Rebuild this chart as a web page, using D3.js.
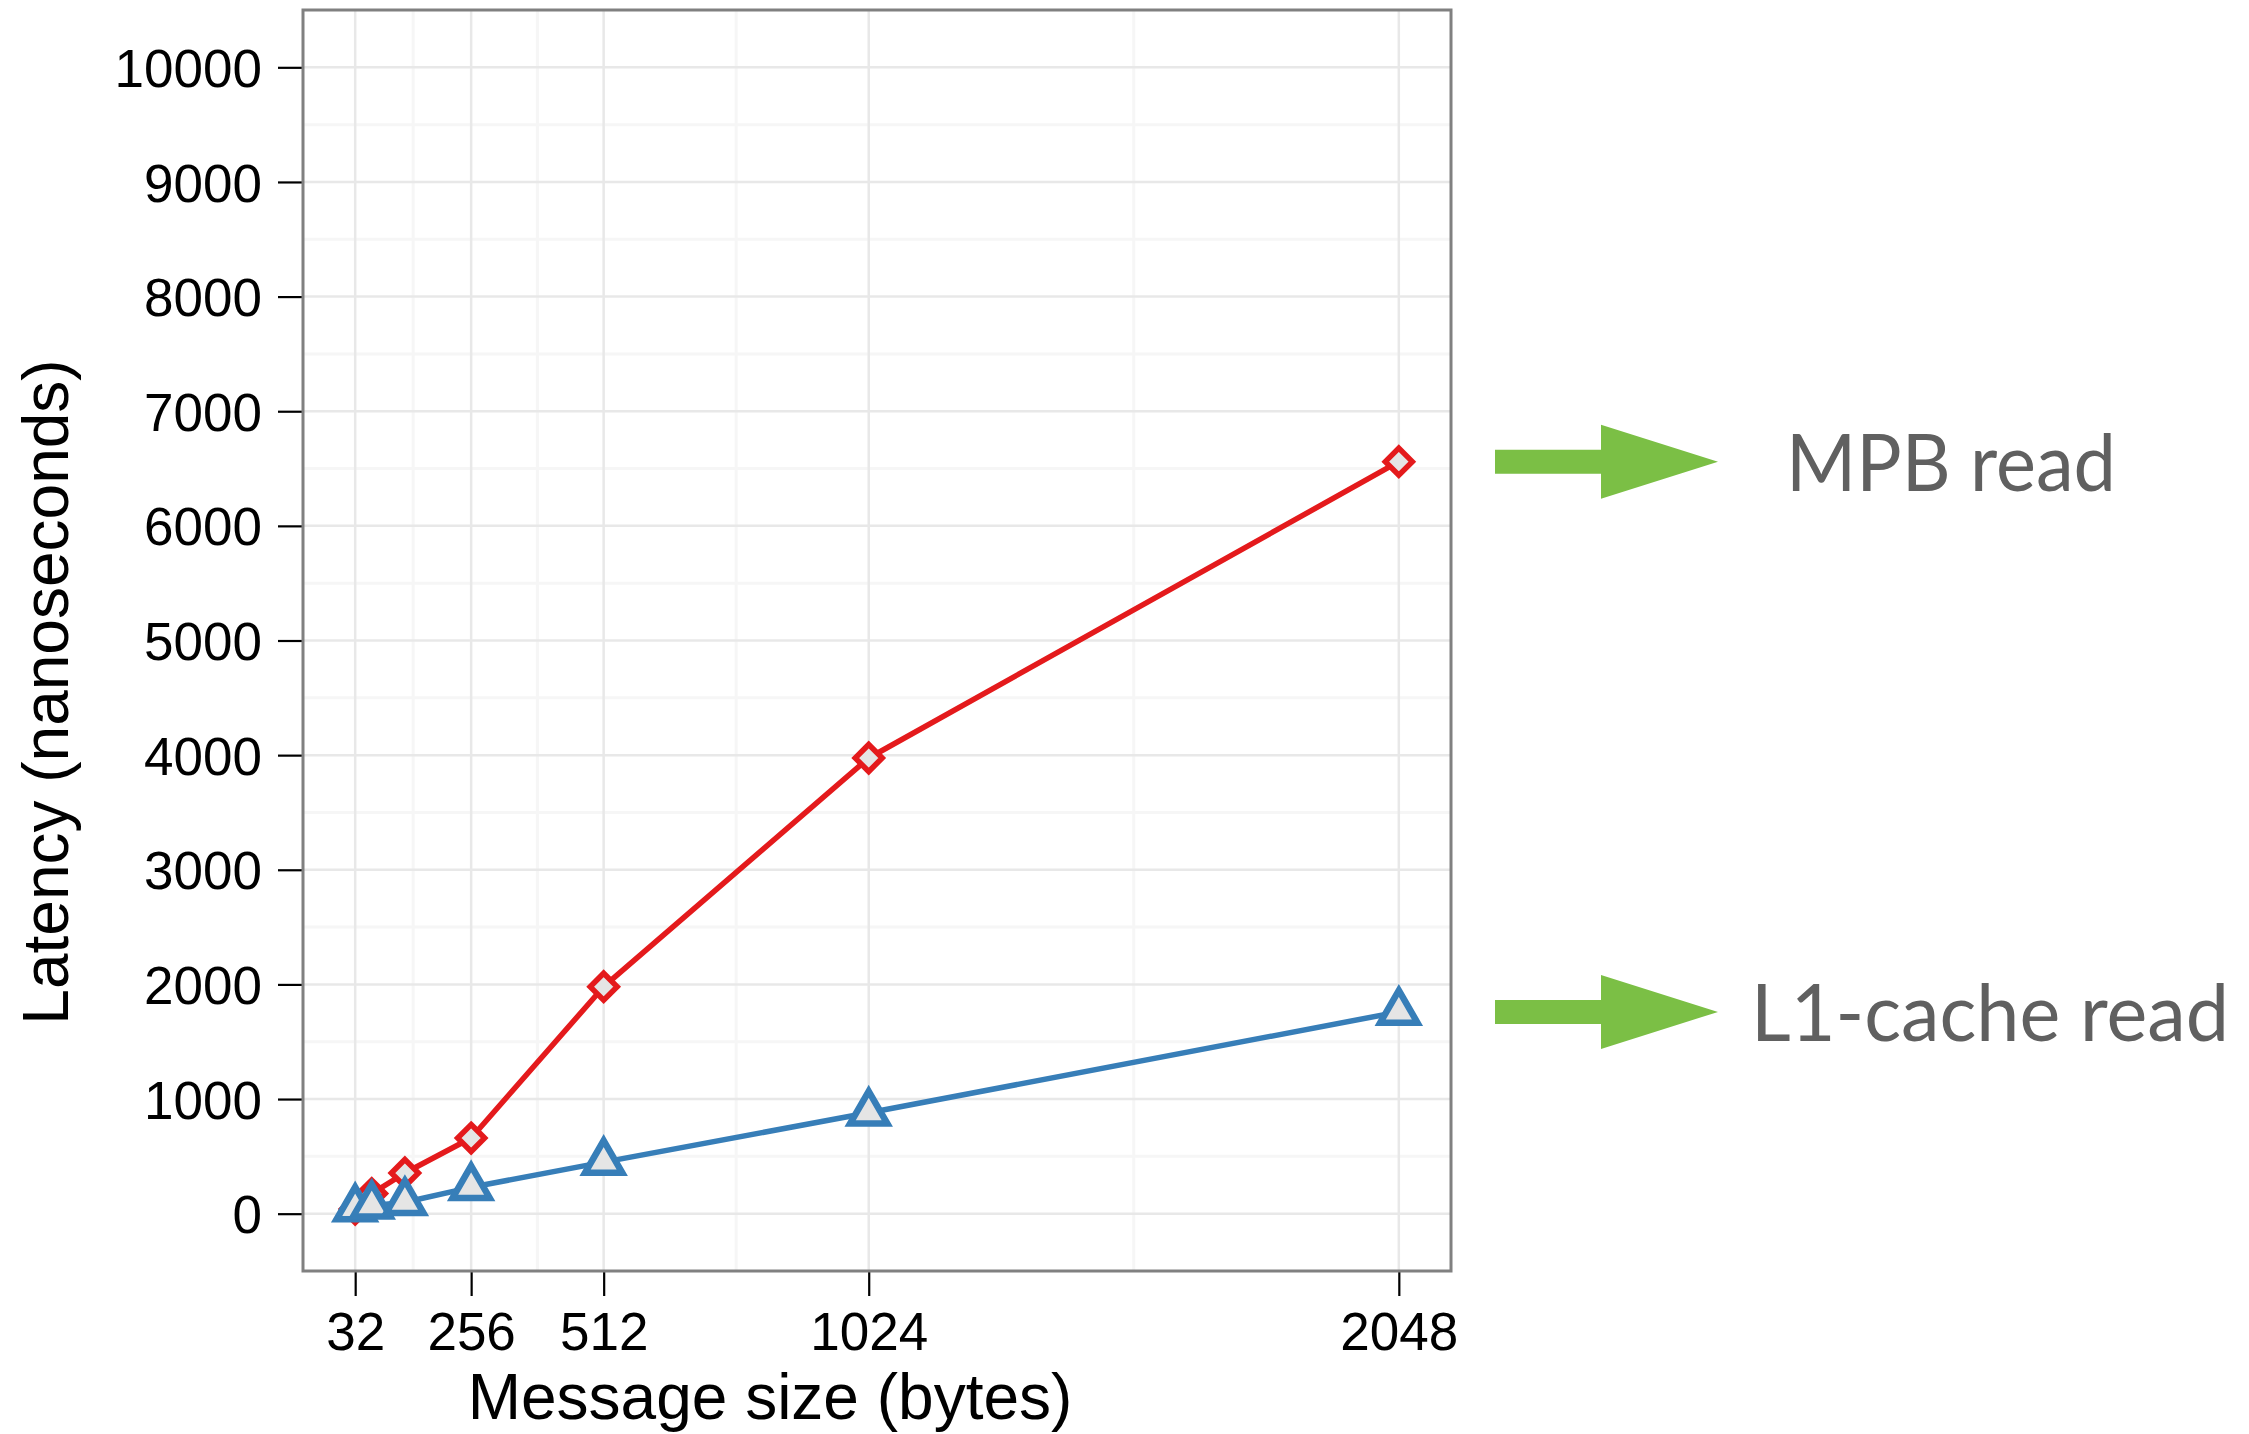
<!DOCTYPE html>
<html>
<head>
<meta charset="utf-8">
<script src="https://cdn.jsdelivr.net/npm/d3@7"></script>
<style>
  html, body { margin: 0; padding: 0; background: #ffffff; }
  svg { display: block; }
</style>
</head>
<body>
<svg id="chart" width="2249" height="1434"></svg>
<script>
// Message sizes (bytes) and measured latencies (nanoseconds)
const messageSizes = [32, 64, 128, 256, 512, 1024, 2048];
const mpbRead      = [40, 175, 355, 660, 1980, 3975, 6560];
const l1CacheRead  = [45, 70, 100, 230, 450, 880, 1760];

const xTicks = [32, 256, 512, 1024, 2048];
const xMinor = [144, 384, 768, 1536];
const yTicks = [0, 1000, 2000, 3000, 4000, 5000, 6000, 7000, 8000, 9000, 10000];
const yMinor = [500, 1500, 2500, 3500, 4500, 5500, 6500, 7500, 8500, 9500];

const seriesLabels = ["MPB read", "L1-cache read"];

const svg = d3.select("#chart");
const W = 2249, H = 1434;
svg.append("rect").attr("width", W).attr("height", H).attr("fill", "#ffffff");

const panel = { left: 303, right: 1451, top: 10, bottom: 1271 };

// 5% padding around the data range, ggplot style
const xRange = 2048 - 32;
const x = d3.scaleLinear()
  .domain([32 - 0.05 * xRange, 2048 + 0.05 * xRange])
  .range([panel.left, panel.right]);
const y = d3.scaleLinear()
  .domain([-500, 10500])
  .range([panel.bottom, panel.top]);

const g = svg.append("g");

// minor grid
g.selectAll("line.xminor").data(xMinor).join("line")
  .attr("x1", d => x(d)).attr("x2", d => x(d))
  .attr("y1", panel.top).attr("y2", panel.bottom)
  .attr("stroke", "#f6f6f6").attr("stroke-width", 3);
g.selectAll("line.yminor").data(yMinor).join("line")
  .attr("y1", d => y(d)).attr("y2", d => y(d))
  .attr("x1", panel.left).attr("x2", panel.right)
  .attr("stroke", "#f6f6f6").attr("stroke-width", 3);

// major grid
g.selectAll("line.xmajor").data(xTicks).join("line")
  .attr("x1", d => x(d)).attr("x2", d => x(d))
  .attr("y1", panel.top).attr("y2", panel.bottom)
  .attr("stroke", "#e8e8e8").attr("stroke-width", 2.5);
g.selectAll("line.ymajor").data(yTicks).join("line")
  .attr("y1", d => y(d)).attr("y2", d => y(d))
  .attr("x1", panel.left).attr("x2", panel.right)
  .attr("stroke", "#e8e8e8").attr("stroke-width", 2.5);

// axes
const tickFont = "'Liberation Sans', Arial, Helvetica, sans-serif";
const yAxis = d3.axisLeft(y).tickValues(yTicks).tickSize(25).tickPadding(14).tickFormat(d3.format("d"));
const yG = svg.append("g").attr("transform", `translate(${panel.left},0)`).call(yAxis);
const xAxis = d3.axisBottom(x).tickValues(xTicks).tickSize(25).tickPadding(14).tickFormat(d3.format("d"));
const xG = svg.append("g").attr("transform", `translate(0,${panel.bottom})`).call(xAxis);
[yG, xG].forEach(a => {
  a.select(".domain").remove();
  a.selectAll(".tick line").attr("stroke", "#000").attr("stroke-width", 2.2);
  a.selectAll(".tick text").attr("fill", "#000")
    .style("font-family", tickFont).style("font-size", "53px");
});
yG.selectAll(".tick text").attr("x", -41).attr("dy", "0.36em");
xG.selectAll(".tick text").attr("y", 41).attr("dy", "0.72em");

// panel border
svg.append("rect")
  .attr("x", panel.left).attr("y", panel.top)
  .attr("width", panel.right - panel.left).attr("height", panel.bottom - panel.top)
  .attr("fill", "none").attr("stroke", "#808080").attr("stroke-width", 3);

// axis titles
svg.append("text")
  .attr("x", 770).attr("y", 1419)
  .attr("text-anchor", "middle")
  .style("font-family", tickFont).style("font-size", "64px").attr("fill", "#000")
  .text("Message size (bytes)");
svg.append("text")
  .attr("transform", "translate(68,692) rotate(-90)")
  .attr("text-anchor", "middle")
  .style("font-family", tickFont).style("font-size", "64px").attr("fill", "#000")
  .text("Latency (nanoseconds)");

// series
const red = "#e41a1c", blue = "#377eb8", markerFill = "#e5e5e5";
const line = d3.line().x(d => x(d[0])).y(d => y(d[1]));
const mpbPts = messageSizes.map((s, i) => [s, mpbRead[i]]);
const l1Pts = messageSizes.map((s, i) => [s, l1CacheRead[i]]);

const dh = 13.5;
const diamond = `M0,${-dh}L${dh},0L0,${dh}L${-dh},0Z`;
const tr = 21.5, tx = tr * Math.sqrt(3) / 2;
const triangle = `M0,${-tr}L${tx},${tr / 2}L${-tx},${tr / 2}Z`;

svg.append("path").datum(mpbPts).attr("d", line)
  .attr("fill", "none").attr("stroke", red).attr("stroke-width", 5.5).attr("stroke-linejoin", "round");
svg.selectAll("path.mpb").data(mpbPts).join("path").attr("class", "mpb")
  .attr("d", diamond)
  .attr("transform", d => `translate(${x(d[0])},${y(d[1])})`)
  .attr("fill", markerFill).attr("stroke", red).attr("stroke-width", 5.5);

svg.append("path").datum(l1Pts).attr("d", line)
  .attr("fill", "none").attr("stroke", blue).attr("stroke-width", 5.5).attr("stroke-linejoin", "round");
svg.selectAll("path.l1").data(l1Pts).join("path").attr("class", "l1")
  .attr("d", triangle)
  .attr("transform", d => `translate(${x(d[0])},${y(d[1])})`)
  .attr("fill", markerFill).attr("stroke", blue).attr("stroke-width", 6.5);

// callout arrows and series names, aligned with each series' last value
const green = "#7bbf45";
const callouts = [
  { value: mpbRead[mpbRead.length - 1], label: seriesLabels[0], lx: 1786, len: 330 },
  { value: l1CacheRead[l1CacheRead.length - 1], label: seriesLabels[1], lx: 1751, len: 478 }
];
callouts.forEach(c => {
  const cy = y(c.value);
  const x0 = 1495, xb = 1601, xt = 1718, sh = 12, hh = 37;
  svg.append("path")
    .attr("d", `M${x0},${cy - sh}L${xb},${cy - sh}L${xb},${cy - hh}L${xt},${cy}L${xb},${cy + hh}L${xb},${cy + sh}L${x0},${cy + sh}Z`)
    .attr("fill", green);
  svg.append("text")
    .attr("x", c.lx).attr("y", cy + 29)
    .attr("textLength", c.len).attr("lengthAdjust", "spacingAndGlyphs")
    .style("font-family", "Lato, 'Open Sans', sans-serif").style("font-size", "80px")
    .attr("fill", "#606060")
    .text(c.label);
});
</script>
</body>
</html>
